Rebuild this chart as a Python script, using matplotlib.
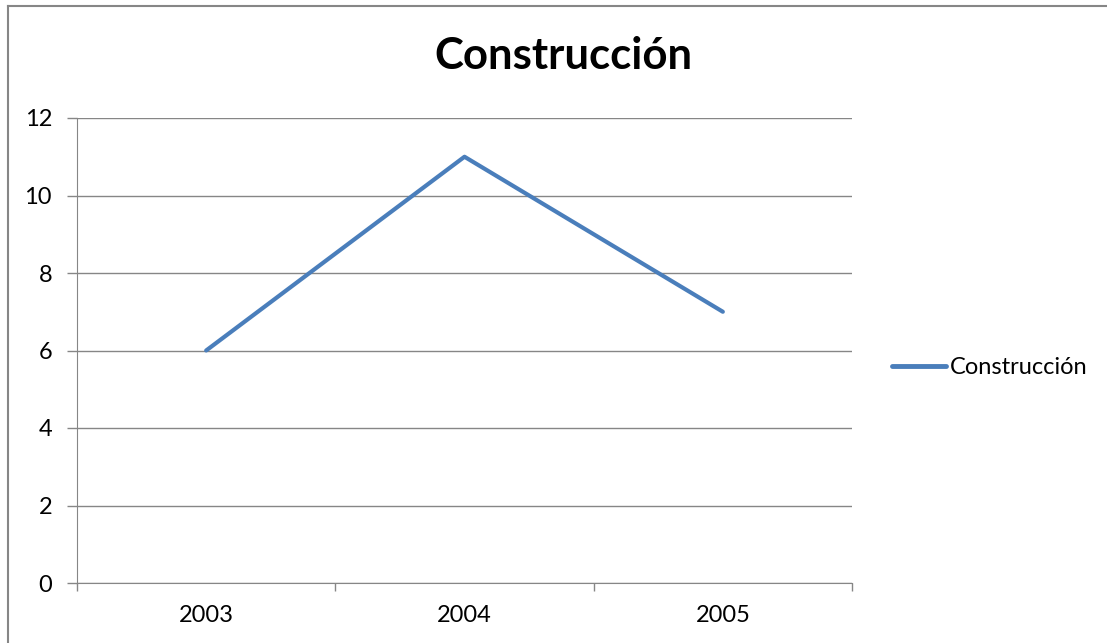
import matplotlib
matplotlib.use('Agg')
import matplotlib.pyplot as plt
from matplotlib.lines import Line2D

years = ['2003', '2004', '2005']
values = [6, 11, 7]
series_name = 'Construcción'
yticks = [0, 2, 4, 6, 8, 10, 12]

plt.rcParams['font.family'] = ['Lato', 'DejaVu Sans']

W, H = 1107, 643
fig = plt.figure(figsize=(W / 100, H / 100), dpi=100)
grey = '#868686'
blue = '#4A7EBB'

# outer chart frame: only top and left edges are visible
fig.add_artist(Line2D([8 / W, 1.0], [1 - 5.5 / H, 1 - 5.5 / H], transform=fig.transFigure,
                      color=grey, linewidth=1.5))
fig.add_artist(Line2D([8 / W, 8 / W], [0, 1 - 5.5 / H], transform=fig.transFigure,
                      color=grey, linewidth=1.5))

ax = fig.add_axes([77 / W, 1 - 583 / H, (852 - 77) / W, (583 - 118) / H])
x = [i + 0.5 for i in range(len(years))]
ax.plot(x, values, color=blue, linewidth=3, solid_capstyle='round', label=series_name)

ax.set_xlim(0, len(years))
ax.set_ylim(0, 12)
ax.set_yticks(yticks)
ax.set_yticklabels([str(v) for v in yticks])
ax.set_xticks(range(len(years) + 1))
ax.set_xticklabels([])
ax.set_xticks(x, minor=True)
ax.set_xticklabels(years, minor=True)
ax.tick_params(axis='x', which='minor', length=0, pad=16, labelsize=17)
ax.tick_params(axis='x', which='major', length=6, color=grey, width=1)
ax.tick_params(axis='y', length=7, color=grey, width=1, labelsize=17, pad=11)
ax.yaxis.grid(True, color=grey, linewidth=1)
ax.set_axisbelow(True)
for s in ['top', 'right']:
    ax.spines[s].set_visible(False)
ax.spines['left'].set_color(grey)
ax.spines['bottom'].set_color(grey)

fig.text(563 / W, 1 - 56 / H, series_name, ha='center', va='center',
         fontsize=31.5, fontweight='bold')

handle = Line2D([], [], color=blue, linewidth=3.5, solid_capstyle='round')
fig.legend([handle], [series_name], loc='center left', bbox_to_anchor=(892 / W, 1 - 368 / H),
           frameon=False, fontsize=17, handlelength=2.3, handletextpad=0.15,
           borderpad=0, borderaxespad=0)

fig.savefig('out.png', dpi=100)
